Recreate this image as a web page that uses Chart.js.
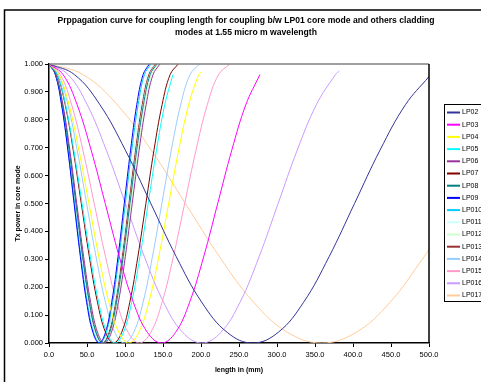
<!DOCTYPE html>
<html lang="en">
  <head>
    <meta charset="UTF-8" />
    <title>Propagation curve - coupling length</title>
    <script src="https://cdn.jsdelivr.net/npm/chart.js"></script>
    <style>
      body { margin: 0; background: #fff; }
      canvas { display: block; }
    </style>
  </head>
  <body>
    <canvas id="chart" width="481" height="382"></canvas>
    <script>
      // Series names (legend order) and points: [length mm, Tx power]
      const modeNames = ["LP02", "LP03", "LP04", "LP05", "LP06", "LP07", "LP08", "LP09",
        "LP010", "LP011", "LP012", "LP013", "LP014", "LP015", "LP016", "LP017"];

      const lp02 = [[0,1],[33.5,0.962],[67,0.854],[100.5,0.691],[134,0.5],[167.5,0.309],[201,0.146],[234.5,0.038],[268,0],[301.5,0.038],[335,0.146],[368.5,0.309],[402,0.5],[435.5,0.691],[469,0.854],[500,0.955]];
      const lp03 = [[0,1],[18.5,0.962],[37,0.854],[55.5,0.691],[74,0.5],[92.5,0.309],[111,0.146],[129.5,0.038],[148,0],[166.5,0.038],[185,0.146],[203.5,0.309],[222,0.5],[240.5,0.691],[259,0.854],[277.5,0.962]];
      const lp04 = [[0,1],[13.1,0.962],[26.3,0.854],[39.4,0.691],[52.5,0.5],[65.6,0.309],[78.8,0.146],[91.9,0.038],[105,0],[118.1,0.038],[131.3,0.146],[144.4,0.309],[157.5,0.5],[170.6,0.691],[183.8,0.854],[196.9,0.962],[200,0.97]];
      const lp05 = [[0,1],[10.9,0.962],[21.8,0.854],[32.6,0.691],[43.5,0.5],[54.4,0.309],[65.3,0.146],[76.1,0.038],[87,0],[97.9,0.038],[108.8,0.146],[119.6,0.309],[130.5,0.5],[141.4,0.691],[152.3,0.854],[163.1,0.962]];
      const lp06 = [[0,1],[9.1,0.962],[18.3,0.854],[27.4,0.691],[36.5,0.5],[45.6,0.309],[54.8,0.146],[63.9,0.038],[73,0],[82.1,0.038],[91.3,0.146],[100.4,0.309],[109.5,0.5],[118.6,0.691],[127.8,0.854],[136.9,0.962],[146,1]];
      const lp07 = [[0,1],[10.6,0.962],[21.3,0.854],[31.9,0.691],[42.5,0.5],[53.1,0.309],[63.8,0.146],[74.4,0.038],[85,0],[95.6,0.038],[106.3,0.146],[116.9,0.309],[127.5,0.5],[138.1,0.691],[148.8,0.854],[159.4,0.962],[170,1]];
      const lp08 = [[0,1],[8.9,0.962],[17.8,0.854],[26.6,0.691],[35.5,0.5],[44.4,0.309],[53.3,0.146],[62.1,0.038],[71,0],[79.9,0.038],[88.8,0.146],[97.6,0.309],[106.5,0.5],[115.4,0.691],[124.3,0.854],[133.1,0.962],[142,1]];
      const lp09 = [[0,1],[8.3,0.962],[16.5,0.854],[24.8,0.691],[33,0.5],[41.3,0.309],[49.5,0.146],[57.8,0.038],[66,0],[74.3,0.038],[82.5,0.146],[90.8,0.309],[99,0.5],[107.3,0.691],[115.5,0.854],[123.8,0.962],[132,1]];
      const lp010 = [[0,1],[8.4,0.962],[16.8,0.854],[25.1,0.691],[33.5,0.5],[41.9,0.309],[50.3,0.146],[58.6,0.038],[67,0],[75.4,0.038],[83.8,0.146],[92.1,0.309],[100.5,0.5],[108.9,0.691],[117.3,0.854],[125.6,0.962],[134,1]];
      const lp011 = [[0,1],[8.6,0.962],[17.3,0.854],[25.9,0.691],[34.5,0.5],[43.1,0.309],[51.8,0.146],[60.4,0.038],[69,0],[77.6,0.038],[86.3,0.146],[94.9,0.309],[103.5,0.5],[112.1,0.691],[120.8,0.854],[129.4,0.962],[138,1]];
      const lp012 = [[0,1],[9,0.962],[18,0.854],[27,0.691],[36,0.5],[45,0.309],[54,0.146],[63,0.038],[72,0],[81,0.038],[90,0.146],[99,0.309],[108,0.5],[117,0.691],[126,0.854],[135,0.962],[144,1]];
      const lp013 = [[0,1],[8.8,0.962],[17.5,0.854],[26.3,0.691],[35,0.5],[43.8,0.309],[52.5,0.146],[61.3,0.038],[70,0],[78.8,0.038],[87.5,0.146],[96.3,0.309],[105,0.5],[113.8,0.691],[122.5,0.854],[131.3,0.962],[140,1]];
      const lp014 = [[0,1],[12.4,0.962],[24.8,0.854],[37.1,0.691],[49.5,0.5],[61.9,0.309],[74.3,0.146],[86.6,0.038],[99,0],[111.4,0.038],[123.8,0.146],[136.1,0.309],[148.5,0.5],[160.9,0.691],[173.3,0.854],[185.6,0.962],[198,1]];
      const lp015 = [[0,1],[14.9,0.962],[29.8,0.854],[44.6,0.691],[59.5,0.5],[74.4,0.309],[89.3,0.146],[104.1,0.038],[119,0],[133.9,0.038],[148.8,0.146],[163.6,0.309],[178.5,0.5],[193.4,0.691],[208.3,0.854],[223.1,0.962],[238,1]];
      const lp016 = [[0,1],[25.1,0.962],[50.3,0.854],[75.4,0.691],[100.5,0.5],[125.6,0.309],[150.8,0.146],[175.9,0.038],[201,0],[226.1,0.038],[251.3,0.146],[276.4,0.309],[301.5,0.5],[326.6,0.691],[351.8,0.854],[376.9,0.962],[382,0.975]];
      const lp017 = [[0,1],[44.9,0.962],[89.8,0.854],[134.6,0.691],[179.5,0.5],[224.4,0.309],[269.3,0.146],[314.1,0.038],[359,0],[403.9,0.038],[448.8,0.146],[493.6,0.309],[500,0.335]];

      const modeData = [lp02, lp03, lp04, lp05, lp06, lp07, lp08, lp09,
        lp010, lp011, lp012, lp013, lp014, lp015, lp016, lp017];

      const modeColors = ["#333399", "#ff00ff", "#ffff00", "#00ffff", "#993399", "#800000",
        "#008080", "#0000ff", "#00ccff", "#ccffff", "#ccffcc", "#993333",
        "#99ccff", "#ff99cc", "#cc99ff", "#ffcc99"];

      const xTicks = [0, 50, 100, 150, 200, 250, 300, 350, 400, 450, 500];
      const titleLines = [
        "Prppagation curve for coupling length for coupling b/w LP01 core mode and others cladding",
        "modes at 1.55 micro m wavelength",
      ];
      const font = '"Liberation Sans", Arial, sans-serif';

      // Title, legend, axis titles and frames drawn over the chart
      const decor = {
        id: "decor",
        afterDraw(chart) {
          const ctx = chart.ctx;
          const a = chart.chartArea;
          ctx.save();
          // outer chart frame
          ctx.strokeStyle = "#000";
          ctx.lineWidth = 1.5;
          ctx.strokeRect(4.5, 10, 490, 390);
          // plot area top/right edges
          ctx.strokeStyle = "#808080";
          ctx.beginPath();
          ctx.moveTo(a.left, a.top);
          ctx.lineTo(a.right, a.top);
          ctx.stroke();
          ctx.strokeStyle = "#000";
          ctx.beginPath();
          ctx.moveTo(a.right, a.top);
          ctx.lineTo(a.right, a.bottom);
          ctx.stroke();

          ctx.fillStyle = "#000";
          ctx.textAlign = "center";
          ctx.textBaseline = "middle";
          ctx.font = "bold 8.6px " + font;
          ctx.fillText(titleLines[0], 246, 21);
          ctx.fillText(titleLines[1], 246, 33);

          ctx.font = "bold 7px " + font;
          ctx.fillText("length in (mm)", (a.left + a.right) / 2, 370);
          ctx.save();
          ctx.translate(18, (a.top + a.bottom) / 2);
          ctx.rotate(-Math.PI / 2);
          ctx.fillText("Tx power in core mode", 0, 0);
          ctx.restore();

          // legend
          ctx.strokeStyle = "#000";
          ctx.lineWidth = 1;
          ctx.strokeRect(444.5, 104.5, 60, 197);
          ctx.textAlign = "left";
          ctx.font = "7px " + font;
          chart.data.datasets.forEach((ds, i) => {
            const y = 112.5 + i * 12.2;
            ctx.strokeStyle = ds.borderColor;
            ctx.lineWidth = 2;
            ctx.beginPath();
            ctx.moveTo(447, y);
            ctx.lineTo(460, y);
            ctx.stroke();
            ctx.fillStyle = "#000";
            ctx.fillText(ds.label, 462, y);
          });
          ctx.restore();
        },
      };

      new Chart(document.getElementById("chart"), {
        type: "scatter",
        data: {
          datasets: modeNames.map((name, i) => ({
            label: name,
            data: modeData[i].map((p) => ({ x: p[0], y: p[1] })),
            showLine: true,
            borderColor: modeColors[i],
            backgroundColor: modeColors[i],
            borderWidth: 1,
            pointRadius: 0,
            tension: 0.4,
          })),
        },
        options: {
          responsive: false,
          animation: false,
          layout: { padding: { top: 64, right: 52, left: 0, bottom: 0 } },
          plugins: {
            legend: { display: false },
            tooltip: { enabled: false },
          },
          scales: {
            x: {
              type: "linear",
              min: 0,
              max: 500,
              afterFit: (s) => { s.height = 39; },
              afterBuildTicks: (s) => { s.ticks = xTicks.map((v) => ({ value: v })); },
              border: { color: "#000", width: 1.5 },
              grid: { drawOnChartArea: false, tickLength: 4, color: "#000" },
              ticks: {
                padding: 3,
                color: "#000",
                font: { family: font, size: 7.5 },
                callback: (v) => v.toFixed(1),
                maxRotation: 0,
              },
            },
            y: {
              min: 0,
              max: 1,
              afterFit: (s) => { s.width = 49; },
              border: { color: "#000", width: 1.5 },
              grid: { drawOnChartArea: false, tickLength: 4, color: "#000" },
              ticks: {
                stepSize: 0.1,
                padding: 2,
                color: "#000",
                font: { family: font, size: 7.5 },
                callback: (v) => v.toFixed(3),
              },
            },
          },
        },
        plugins: [decor],
      });
    </script>
  </body>
</html>
